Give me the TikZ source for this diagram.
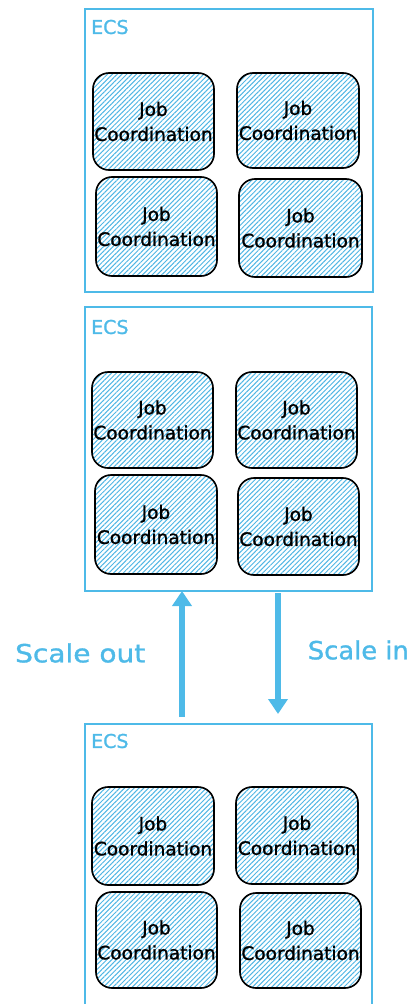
\documentclass[tikz,border=0pt]{standalone}
\usepackage{fontspec}
\setmainfont{DejaVu Sans}
\newfontfamily\handfont[FakeBold=1.2]{DejaVu Sans}
\usetikzlibrary{arrows.meta,patterns.meta}
\definecolor{skyb}{RGB}{78,186,232}
\definecolor{hatch}{RGB}{80,182,228}
\tikzset{
  ecsbox/.style={draw=skyb, line width=2pt, anchor=north west, inner sep=0pt},
  ecslabel/.style={text=skyb, anchor=west, font=\handfont\fontsize{19}{21}\selectfont, inner sep=0pt},
  jobbox/.style={draw=black, line width=1.6pt, rounded corners=16pt,
    pattern={Lines[angle=45,distance=3.4pt,line width=1pt]}, pattern color=hatch,
    align=center, inner sep=0pt, font=\handfont\fontsize{18.5}{25}\selectfont,
    postaction={draw=black, line width=0.8pt, rounded corners=16pt, shift={(1pt,-1pt)}}},
  scaletxt/.style={text=skyb, font=\handfont\fontsize{25}{28}\selectfont, inner sep=0pt},
  scalearrow/.style={draw=skyb, line width=6.5pt, -{Triangle[length=15pt,width=19pt]}}
}
\begin{document}
\begin{tikzpicture}[x=1pt,y=-1pt]
\useasboundingbox (0,0) rectangle (411,1004);
% ---------- ECS 1 ----------
\node[ecsbox, minimum width=288pt, minimum height=283pt] (ecsA) at (84,8) {};
\node[ecslabel] (lblA) at (91,27) {ECS};
\node[jobbox, minimum width=121pt, minimum height=97pt] (a1) at (153.5,121.5) {Job\\Coordination};
\node[jobbox, minimum width=122pt, minimum height=95pt] (a2) at (298,120.5) {Job\\Coordination};
\node[jobbox, minimum width=121pt, minimum height=99pt] (a3) at (156.5,226.5) {Job\\Coordination};
\node[jobbox, minimum width=123pt, minimum height=98pt] (a4) at (300.5,228) {Job\\Coordination};
% ---------- ECS 2 ----------
\node[ecsbox, minimum width=287pt, minimum height=284pt] (ecsB) at (84,306) {};
\node[ecslabel] (lblB) at (91,327) {ECS};
\node[jobbox, minimum width=121pt, minimum height=96pt] (b1) at (152.5,420) {Job\\Coordination};
\node[jobbox, minimum width=121pt, minimum height=96pt] (b2) at (296.5,420) {Job\\Coordination};
\node[jobbox, minimum width=122pt, minimum height=99pt] (b3) at (156,524.5) {Job\\Coordination};
\node[jobbox, minimum width=121pt, minimum height=97pt] (b4) at (298.5,526.5) {Job\\Coordination};
% ---------- ECS 3 ----------
\node[ecsbox, minimum width=287pt, minimum height=282pt] (ecsC) at (84,723) {};
\node[ecslabel] (lblC) at (91,741) {ECS};
\node[jobbox, minimum width=122pt, minimum height=98pt] (c1) at (153,836) {Job\\Coordination};
\node[jobbox, minimum width=122pt, minimum height=97pt] (c2) at (297,835.5) {Job\\Coordination};
\node[jobbox, minimum width=121pt, minimum height=96pt] (c3) at (156.5,940) {Job\\Coordination};
\node[jobbox, minimum width=121pt, minimum height=95pt] (c4) at (300.5,940.5) {Job\\Coordination};
% ---------- arrows ----------
\coordinate (outS) at (182,717);
\coordinate (outE) at (182,591);
\coordinate (inS) at (278,593);
\coordinate (inE) at (278,714);
\draw[scalearrow] (outS) -- (outE);
\draw[scalearrow] (inS) -- (inE);
\node[scaletxt, anchor=west] (tout) at (15,653) {\scalebox{1.12}[1]{Scale out}};
\node[scaletxt, anchor=east] (tin) at (409,650) {\scalebox{1.03}[1]{Scale in}};
\end{tikzpicture}
\end{document}
